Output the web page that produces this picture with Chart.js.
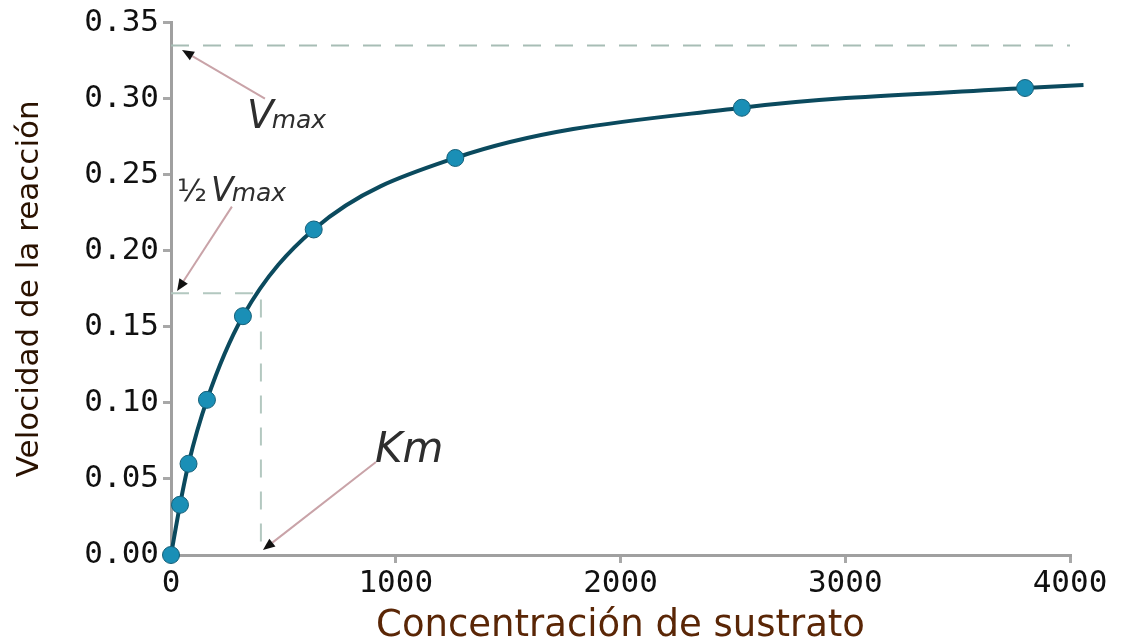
<!DOCTYPE html>
<html>
<head>
<meta charset="utf-8">
<script src="https://cdn.jsdelivr.net/npm/chart.js@4.4.1/dist/chart.umd.min.js"></script>
<style>
  html, body { margin: 0; padding: 0; background: #ffffff; }
  #wrap { width: 1145px; height: 643px; }
</style>
</head>
<body>
<div id="wrap"><canvas id="c" width="1145" height="643"></canvas></div>
<script>
// ---- data ----
const concentrations = [0, 40, 78, 160, 320, 635, 1265, 2540, 3800];
const rates = [0, 0.033, 0.060, 0.102, 0.157, 0.214, 0.261, 0.294, 0.307];
const curveEndConc = 4060;
const curveEndRate = 0.309;
const vmax = 0.335;
const halfVmax = 0.172;
const km = 400;
const xTicks = [0, 1000, 2000, 3000, 4000];
const yTicks = [0, 0.05, 0.10, 0.15, 0.20, 0.25, 0.30, 0.35];
const xTitle = 'Concentración de sustrato';
const yTitle = 'Velocidad de la reacción';
// annotation anchors (data units)
const notes = [
  { kind: 'vmax', textAt: [338, 0.281], from: [418, 0.300], to: [49, 0.332] },
  { kind: 'half', textAt: [27, 0.233], from: [271, 0.229], to: [27, 0.1735] },
  { kind: 'km',   textAt: [908, 0.061], from: [912, 0.0611], to: [409, 0.0033] }
];

const curvePoints = concentrations.map((c, i) => ({ x: c, y: rates[i] }));
curvePoints.push({ x: curveEndConc, y: curveEndRate });
const radii = curvePoints.map((p, i) => i < concentrations.length ? 8.5 : 0);

const annotPlugin = {
  id: 'annot',
  afterDatasetsDraw(chart) {
    const ctx = chart.ctx, xs = chart.scales.x, ys = chart.scales.y;
    const P = (a) => [xs.getPixelForValue(a[0]), ys.getPixelForValue(a[1])];
    ctx.save();
    notes.forEach(n => {
      const [fx, fy] = P(n.from), [tx, ty] = P(n.to);
      const ang = Math.atan2(ty - fy, tx - fx);
      const L = 12, W = 5;
      const bx = tx - L * Math.cos(ang), by = ty - L * Math.sin(ang);
      ctx.strokeStyle = '#c9a3a8';
      ctx.lineWidth = 2;
      ctx.beginPath(); ctx.moveTo(fx, fy); ctx.lineTo(bx, by); ctx.stroke();
      ctx.fillStyle = '#111';
      ctx.beginPath();
      ctx.moveTo(tx, ty);
      ctx.lineTo(bx + W * Math.sin(ang), by - W * Math.cos(ang));
      ctx.lineTo(bx - W * Math.sin(ang), by + W * Math.cos(ang));
      ctx.closePath(); ctx.fill();

      const [lx, ly] = P(n.textAt);
      ctx.fillStyle = '#2e2e2e';
      ctx.textBaseline = 'alphabetic';
      ctx.textAlign = 'left';
      if (n.kind === 'vmax') {
        ctx.font = 'italic 39px "DejaVu Sans"';
        ctx.fillText('V', lx, ly);
        const w = ctx.measureText('V').width;
        ctx.font = 'italic 25px "DejaVu Sans"';
        ctx.fillText('max', lx + w - 2, ly);
      } else if (n.kind === 'half') {
        ctx.font = '31px "DejaVu Sans"';
        ctx.fillText('½', lx, ly);
        let w = ctx.measureText('½').width;
        ctx.font = 'italic 33px "DejaVu Sans"';
        ctx.fillText('V', lx + w + 4, ly);
        w += 4 + ctx.measureText('V').width;
        ctx.font = 'italic 25px "DejaVu Sans"';
        ctx.fillText('max', lx + w - 2, ly);
      } else {
        ctx.font = 'italic 42px "DejaVu Sans"';
        ctx.fillText('Km', lx, ly);
      }
    });
    ctx.restore();
  }
};

new Chart(document.getElementById('c'), {
  type: 'scatter',
  data: {
    datasets: [
      {
        data: curvePoints,
        showLine: true,
        borderColor: '#0b4a5e',
        borderWidth: 4,
        cubicInterpolationMode: 'monotone',
        pointRadius: radii,
        pointBackgroundColor: '#1a8fb6',
        pointBorderColor: '#145f78',
        pointBorderWidth: 1,
        clip: false,
        order: 0
      },
      {
        data: [{ x: 0, y: vmax }, { x: 4000, y: vmax }],
        showLine: true,
        borderColor: '#a7bdb5',
        borderWidth: 2,
        borderDash: [18, 14],
        pointRadius: 0,
        order: 2
      },
      {
        data: [{ x: 0, y: halfVmax }, { x: km, y: halfVmax }, { x: km, y: 0 }],
        showLine: true,
        borderColor: '#b3c8c0',
        borderWidth: 2,
        borderDash: [18, 14],
        pointRadius: 0,
        order: 2
      }
    ]
  },
  options: {
    responsive: false,
    animation: false,
    layout: { padding: { left: 0, right: 75, top: 22, bottom: 0 } },
    plugins: { legend: { display: false }, tooltip: { enabled: false } },
    scales: {
      x: {
        type: 'linear',
        min: 0, max: 4000,
        afterBuildTicks: (s) => { s.ticks = xTicks.map(v => ({ value: v })); },
        afterFit: (s) => { s.height = 88; },
        ticks: {
          color: '#111',
          font: { family: '"DejaVu Sans Mono"', size: 31 },
          padding: 2,
          maxRotation: 0,
          callback: (v) => String(v)
        },
        grid: { drawOnChartArea: false, color: '#a8a8a8', tickLength: 8, lineWidth: 3 },
        border: { color: '#a0a0a0', width: 3 },
        title: {
          display: true, text: xTitle, color: '#5a2606',
          font: { family: '"DejaVu Sans"', size: 37, lineHeight: 1.2 },
          padding: { top: 0, bottom: -6 }
        }
      },
      y: {
        type: 'linear',
        min: 0, max: 0.35,
        afterBuildTicks: (s) => { s.ticks = yTicks.map(v => ({ value: v })); },
        afterFit: (s) => { s.width = 171; },
        ticks: {
          color: '#111',
          font: { family: '"DejaVu Sans Mono"', size: 31 },
          padding: 4,
          callback: (v) => Number(v).toFixed(2)
        },
        grid: { drawOnChartArea: false, color: '#a8a8a8', tickLength: 8, lineWidth: 3 },
        border: { color: '#a0a0a0', width: 3 },
        title: {
          display: true, text: yTitle, color: '#2a1200',
          font: { family: '"DejaVu Sans"', size: 31, lineHeight: 1.2 },
          padding: { top: 11, bottom: 0 }
        }
      }
    }
  },
  plugins: [annotPlugin]
});
</script>
</body>
</html>
